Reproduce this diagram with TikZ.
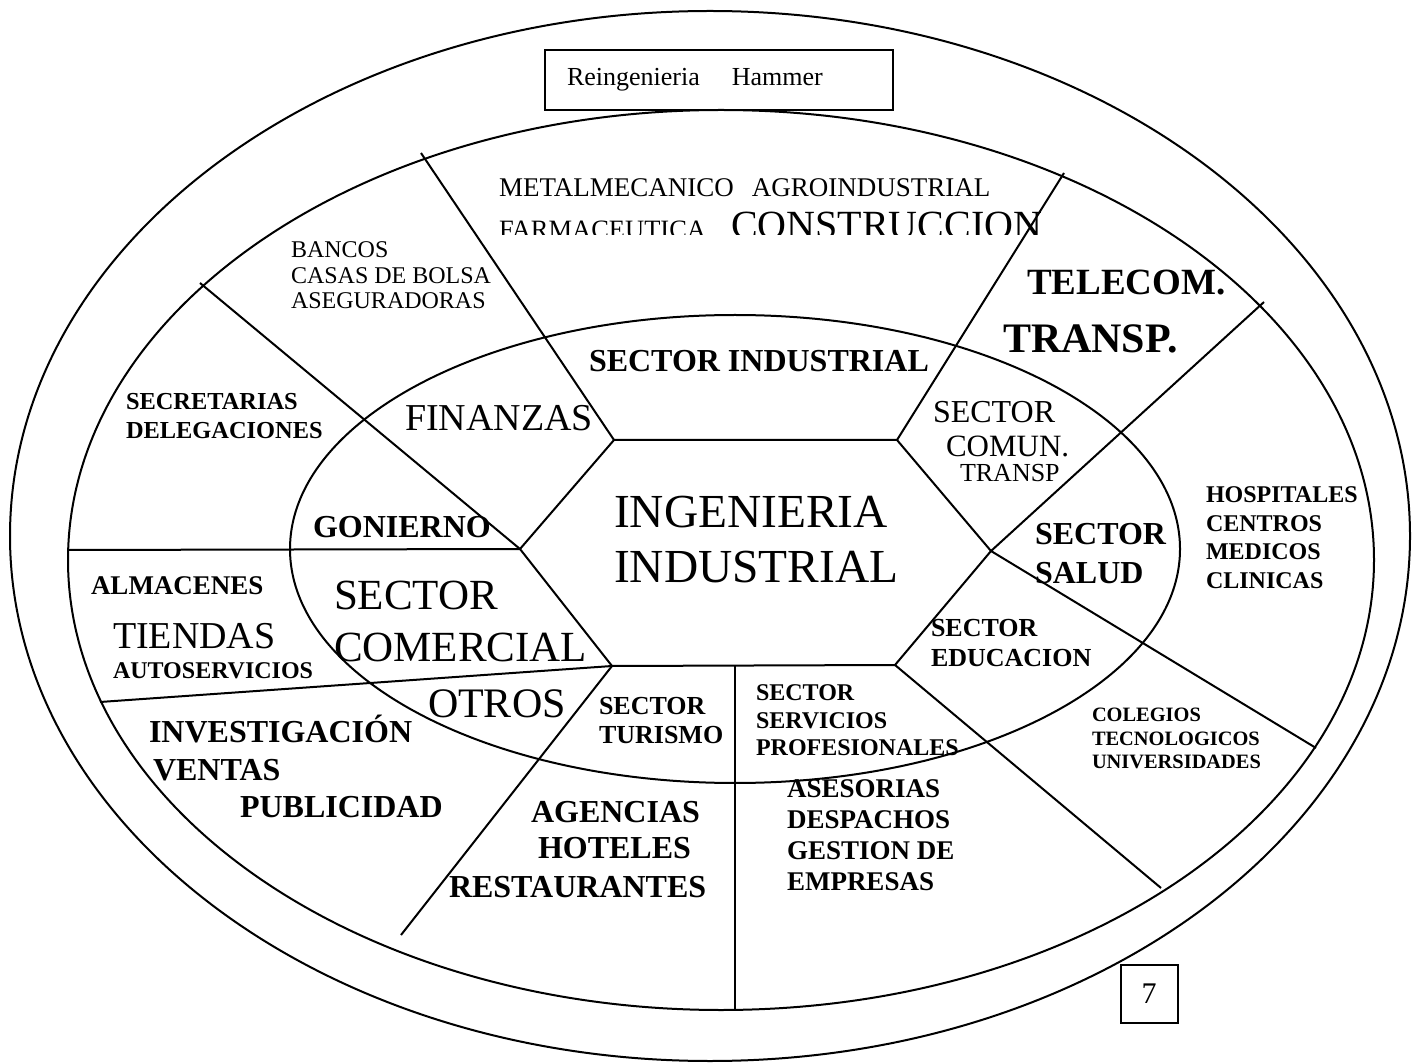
\documentclass[tikz,border=0pt]{standalone}
\usepackage{fontspec}
\setmainfont{Liberation Serif}
\usepackage{tikz}
\usetikzlibrary{positioning}

\begin{document}
\begin{tikzpicture}[x=0.5pt, y=-0.5pt, line width=1pt,
			internal/.style={draw, rectangle, inner sep=0pt},
			txt/.style 2 args={inner sep=0pt, font=\rmfamily\mdseries\fontsize{#1}{#2}\selectfont},
			btxt/.style 2 args={inner sep=0pt, font=\rmfamily\bfseries\fontsize{#1}{#2}\selectfont},
			every text node part/.style={align=left}]
			\useasboundingbox (0,0) rectangle (1413,1063);
			
			% the three rings
			\draw (710,536) ellipse [x radius=350pt, y radius=262.5pt];
			\draw (721,560) ellipse [x radius=326.5pt, y radius=225pt];
			\draw (735,549) ellipse [x radius=222.5pt, y radius=117pt];
			
			\node[internal, minimum width=174pt, minimum height=30pt, text width=152pt, inner xsep=11pt, font=\fontsize{13}{15}\selectfont](node1) at (719,80) {Reingenieria\hspace{16pt}Hammer};
			
			% hexagon
			\coordinate (h1) at (614,440);
			\coordinate (h2) at (897,440);
			\coordinate (h3) at (991,551);
			\coordinate (h4) at (895,665);
			\coordinate (h5) at (612,666);
			\coordinate (h6) at (520,549);
			\draw (h1) -- (h2) -- (h3) -- (h4) -- (h5) -- (h6) -- cycle;
			
			% spokes
			\coordinate (e1) at (421,153);
			\coordinate (e2) at (1064,173);
			\coordinate (e3) at (1264,302);
			\coordinate (e4) at (1316,748);
			\coordinate (e5) at (1161,888);
			\coordinate (b6) at (735,665);
			\coordinate (e6) at (735,1011);
			\coordinate (e7) at (401,935);
			\coordinate (e8) at (100,702);
			\coordinate (e9) at (68,550);
			\coordinate (e10) at (200,283);
			\draw (e1) -- (h1);
			\draw (e2) -- (h2);
			\draw (e3) -- (h3);
			\draw (h3) -- (e4);
			\draw (h4) -- (e5);
			\draw (b6) -- (e6);
			\draw (h5) -- (e7);
			\draw (h5) -- (e8);
			\draw (h6) -- (e9);
			\draw (h6) -- (e10);
			
			\node[internal, minimum width=28.5pt, minimum height=29pt, font=\fontsize{15}{17}\selectfont](node2) at (1149,994) {7};
			
			% centre
			\node[txt={23.7}{27.5}, anchor=north west](node3) at (613,495) {INGENIERIA\\INDUSTRIAL};
			
			% inner ring
			\node[btxt={16}{18}, anchor=base west](node4) at (588,372) {SECTOR INDUSTRIAL};
			\node[txt={19}{21}, anchor=base west](node5) at (404,431) {FINANZAS};
			\node[btxt={16}{18}, anchor=base west](node6) at (312,538) {GONIERNO};
			\node[txt={21.5}{26}, anchor=north west](node7) at (333,580) {SECTOR\\COMERCIAL};
			\node[txt={21}{23}, anchor=base west](node8) at (427,717) {OTROS};
			\node[btxt={13}{14.5}, anchor=north west](node9) at (598,696) {SECTOR\\TURISMO};
			\node[btxt={12}{13.75}, anchor=north west](node10) at (755,684) {SECTOR\\SERVICIOS\\PROFESIONALES};
			\node[btxt={13}{15}, anchor=north west](node11) at (930,618) {SECTOR\\EDUCACION};
			\node[btxt={16}{19.5}, anchor=north west](node12) at (1034,522) {SECTOR\\SALUD};
			\node[txt={16}{18}, anchor=base west](node13) at (932,423) {SECTOR};
			\node[txt={15.5}{17}, anchor=base west](node131) at (945,457) {COMUN.};
			\node[txt={13}{15}, anchor=base west](node132) at (959,482) {TRANSP};
			
			% outer ring
			\node[txt={13.5}{15}, anchor=base west](node14) at (498,197) {METALMECANICO\hspace{9pt}AGROINDUSTRIAL};
			\begin{scope}
				\clip (480,200) rectangle (1060,235);
				\node[txt={13.25}{15}, anchor=base west](node15) at (498,239) {FARMACEUTICA};
				\node[txt={20}{22}, anchor=base west](node16) at (730,239) {CONSTRUCCION};
			\end{scope}
			\node[txt={12}{12.75}, anchor=north west](node17) at (290,241) {BANCOS\\CASAS DE BOLSA\\ASEGURADORAS};
			\node[btxt={18.5}{20}, anchor=base west](node18) at (1026,295) {TELECOM.};
			\node[btxt={21}{23}, anchor=base west](node19) at (1002,353) {TRANSP.};
			\node[btxt={12.2}{14.5}, anchor=north west](node20) at (125,392) {SECRETARIAS\\DELEGACIONES};
			\node[btxt={12}{14.2}, anchor=north west](node21) at (1205,486) {HOSPITALES\\CENTROS\\MEDICOS\\CLINICAS};
			\node[btxt={13.5}{15}, anchor=base west](node22) at (90,595) {ALMACENES};
			\node[txt={19}{21}, anchor=base west](node23) at (112,648) {TIENDAS};
			\node[btxt={12}{14}, anchor=base west](node24) at (112,678) {AUTOSERVICIOS};
			\node[btxt={10.2}{11.75}, anchor=north west](node25) at (1091,707) {COLEGIOS\\TECNOLOGICOS\\UNIVERSIDADES};
			\node[btxt={16}{18}, anchor=base west](node26) at (148,742) {INVESTIGACIÓN};
			\node[btxt={16}{18}, anchor=base west](node27) at (152,780) {VENTAS};
			\node[btxt={16}{18}, anchor=base west](node28) at (239,817) {PUBLICIDAD};
			\node[btxt={16}{18}, anchor=base west](node29) at (530,822) {AGENCIAS};
			\node[btxt={16}{18}, anchor=base west](node30) at (537,858) {HOTELES};
			\node[btxt={16}{18}, anchor=base west](node31) at (448,897) {RESTAURANTES};
			\node[btxt={13.5}{15.5}, anchor=north west](node32) at (786,779) {ASESORIAS\\DESPACHOS\\GESTION DE\\EMPRESAS};
			
		\end{tikzpicture}
\end{document}
